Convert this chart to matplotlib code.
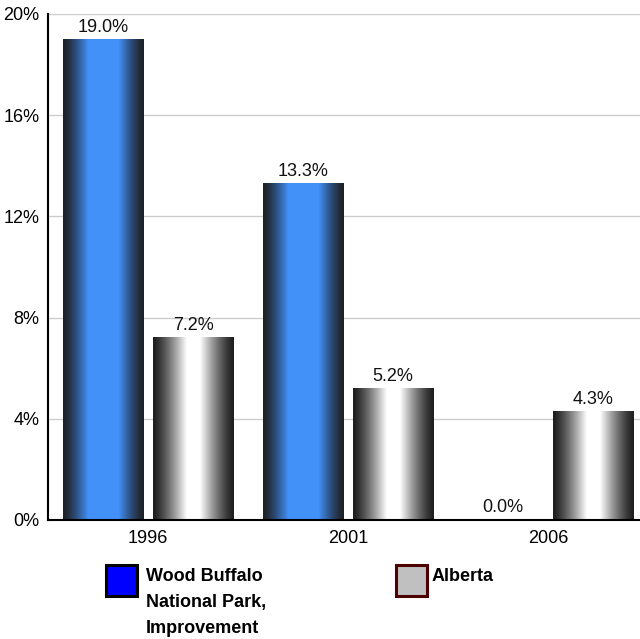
import numpy as np
import matplotlib
matplotlib.use("Agg")
import matplotlib.pyplot as plt
from matplotlib.patches import Rectangle

plt.rcParams['font.family'] = ['Liberation Sans', 'DejaVu Sans']

# chart data
years = ['1996', '2001', '2006']
wood_buffalo = [19.0, 13.3, 0.0]
alberta = [7.2, 5.2, 4.3]
series_names = ['Wood Buffalo\nNational Park,\nImprovement', 'Alberta']
y_ticks = [0, 4, 8, 12, 16, 20]

bar_w = 0.405
offset = 0.225


def gradient(dark, light, n=120, flat=1.5):
    # dark on both edges, light in the middle
    x = np.linspace(0, 1, n)
    t = np.clip((1 - np.abs(2 * x - 1)) * flat, 0, 1)
    t = t ** 1.3
    dark = np.array(dark)
    light = np.array(light)
    row = dark[None, :] + (light - dark)[None, :] * t[:, None]
    return row[None, :, :]


blue_grad = gradient((0.12, 0.13, 0.15), (0.26, 0.57, 0.98), flat=1.6)
grey_grad = gradient((0.12, 0.12, 0.12), (1.0, 1.0, 1.0), flat=1.2)

fig = plt.figure(figsize=(6.4, 6.39), dpi=100)
ax = fig.add_axes([48 / 640, 119 / 639, 600 / 640, 506 / 639])

for i, year in enumerate(years):
    for val, grad, off in [(wood_buffalo[i], blue_grad, -offset),
                           (alberta[i], grey_grad, offset)]:
        x0 = i + off - bar_w / 2
        if val > 0:
            ax.imshow(grad, extent=[x0, x0 + bar_w, 0, val], aspect='auto',
                      zorder=2, interpolation='bilinear')
        ax.text(i + off, val + 0.3, f"{val:.1f}%", ha='center', va='baseline',
                fontsize=13, color='#111111', zorder=3)

ax.set_xlim(-0.5, 2.5)
ax.set_ylim(0, 20)
ax.set_yticks(y_ticks)
ax.set_yticklabels([f"{t}%" for t in y_ticks], fontsize=13)
ax.set_xticks(range(len(years)))
ax.set_xticklabels(years, fontsize=13)
ax.tick_params(length=0, pad=6)
ax.tick_params(axis='x', pad=7)
ax.yaxis.grid(True, color='#cccccc', linewidth=1)
ax.set_axisbelow(True)
for s in ['top', 'right']:
    ax.spines[s].set_visible(False)
ax.spines['left'].set_linewidth(1.5)
ax.spines['bottom'].set_linewidth(1.5)

# legend
legend_items = [(series_names[0], '#0000ff', 'black', 106, 146),
                (series_names[1], '#c0c0c0', '#4d0000', 396, 432)]
for name, face, edge, box_x, text_x in legend_items:
    fig.patches.append(Rectangle((box_x / 640, 1 - 596 / 639), 31 / 640, 31 / 639,
                                 transform=fig.transFigure, facecolor=face,
                                 edgecolor=edge, linewidth=2.2))
    for k, line in enumerate(name.split('\n')):
        fig.text(text_x / 640, 1 - (581 + 26 * k) / 639, line, fontsize=13,
                 fontweight='bold', va='baseline', ha='left')

fig.savefig('out.png', dpi=100)
